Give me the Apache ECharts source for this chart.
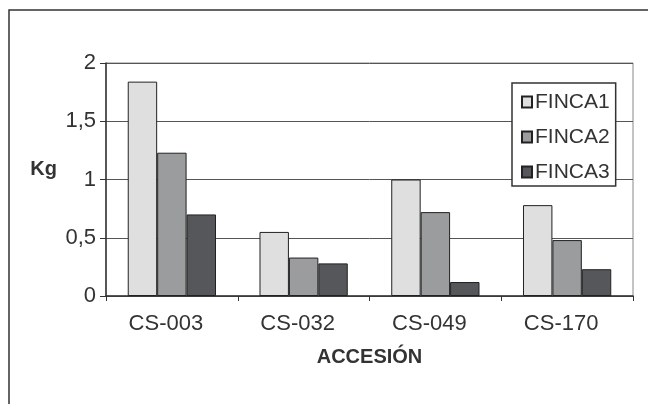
<!DOCTYPE html>
<html>
<head>
<meta charset="utf-8">
<script src="https://cdn.jsdelivr.net/npm/echarts@6/dist/echarts.min.js"></script>
<style>
  html, body { margin: 0; padding: 0; background: #fff; }
  #chart { width: 648px; height: 404px; }
</style>
</head>
<body>
<div id="chart"></div>
<script>
// accesiones y valores (Kg)
const categories = ['CS-003', 'CS-032', 'CS-049', 'CS-170'];
const finca1 = [1.84, 0.55, 1.0, 0.78];
const finca2 = [1.23, 0.33, 0.72, 0.48];
const finca3 = [0.70, 0.28, 0.12, 0.23];
const yTicks = [0, 0.5, 1, 1.5, 2];

const font = 'Liberation Sans, Arial, sans-serif';
const textColor = '#333';

function barSeries(name, data, color) {
  return {
    name: name,
    type: 'bar',
    data: data,
    barGap: 0,
    barCategoryGap: '33%',
    itemStyle: { color: color, borderColor: '#222', borderWidth: 1 }
  };
}

const chart = echarts.init(document.getElementById('chart'));
chart.setOption({
  animation: false,
  backgroundColor: '#fff',
  textStyle: { fontFamily: font },
  graphic: [{
    type: 'rect',
    shape: { x: 9, y: 10, width: 700, height: 500 },
    style: { fill: 'none', stroke: '#333', lineWidth: 1.5 },
    silent: true
  }],
  grid: {
    left: 106, right: 15, top: 63, bottom: 108,
    show: true, borderColor: '#888', borderWidth: 1
  },
  legend: {
    orient: 'vertical',
    left: 512, top: 83,
    padding: [8, 6, 3, 9],
    itemWidth: 10, itemHeight: 11,
    itemGap: 13,
    backgroundColor: '#fff',
    borderColor: '#333', borderWidth: 1.5,
    textStyle: { fontFamily: font, fontSize: 21, color: textColor, lineHeight: 22, padding: [0, 0, 0, -2] },
    icon: 'rect',
    data: ['FINCA1', 'FINCA2', 'FINCA3']
  },
  xAxis: {
    type: 'category',
    data: categories,
    name: 'ACCESIÓN',
    nameLocation: 'middle',
    nameGap: 51,
    nameTextStyle: { fontFamily: font, fontSize: 20, fontWeight: 'bold', color: textColor },
    axisLine: { lineStyle: { color: '#333', width: 1.5 } },
    axisTick: { show: true, length: 5, lineStyle: { color: '#333' } },
    axisLabel: { fontFamily: font, fontSize: 22, color: textColor, margin: 17, padding: [0, 12, 0, 0] }
  },
  yAxis: {
    type: 'value',
    min: yTicks[0],
    max: yTicks[yTicks.length - 1],
    interval: 0.5,
    name: 'Kg',
    nameLocation: 'middle',
    nameRotate: 0,
    nameGap: 49,
    nameTextStyle: { fontFamily: font, fontSize: 20, fontWeight: 'bold', color: textColor, verticalAlign: 'bottom' },
    axisLine: { show: true, lineStyle: { color: '#333', width: 1.5 } },
    axisTick: { show: true, length: 6, lineStyle: { color: '#333' } },
    splitLine: { lineStyle: { color: '#555', width: 1 } },
    axisLabel: {
      fontFamily: font, fontSize: 22, color: textColor, margin: 10,
      formatter: v => String(v).replace('.', ',')
    }
  },
  series: [
    barSeries('FINCA1', finca1, '#dfdfe0'),
    barSeries('FINCA2', finca2, '#9b9c9e'),
    barSeries('FINCA3', finca3, '#56575a')
  ]
});
</script>
</body>
</html>
